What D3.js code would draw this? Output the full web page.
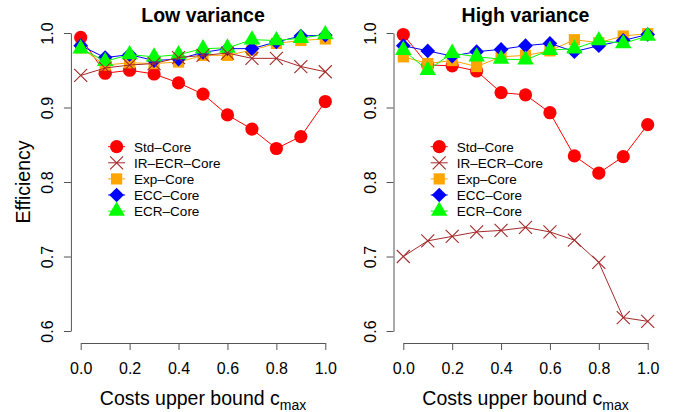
<!DOCTYPE html>
<html lang="en">
<head>
<meta charset="utf-8">
<script src="https://d3js.org/d3.v7.min.js"></script>
<style>
  body { margin: 0; background: #fff; }
  svg text { font-family: "Liberation Sans", Arial, Helvetica, sans-serif; fill: #000; }
  .axis path, .axis line { stroke: #555; stroke-width: 1; }
</style>
</head>
<body>
<div id="chart"></div>
<script>

// cost bound values on the x axis
const costs = [0, 0.1, 0.2, 0.3, 0.4, 0.5, 0.6, 0.7, 0.8, 0.9, 1.0];
const xTicks = [0, 0.2, 0.4, 0.6, 0.8, 1.0];
const yTicks = [0.6, 0.7, 0.8, 0.9, 1.0];

const seriesNames = ["Std\u2013Core", "IR\u2013ECR\u2013Core", "Exp\u2013Core", "ECC\u2013Core", "ECR\u2013Core"];
const panelTitles = ["Low variance", "High variance"];

// Low variance panel
const lowStd = [0.994, 0.946, 0.950, 0.945, 0.933, 0.918, 0.890, 0.871, 0.845, 0.861, 0.908];
const lowIR  = [0.943, 0.953, 0.957, 0.959, 0.967, 0.970, 0.973, 0.966, 0.966, 0.955, 0.948];
const lowExp = [0.980, 0.957, 0.960, 0.959, 0.961, 0.970, 0.970, 0.977, 0.986, 0.990, 0.992];
const lowECC = [0.983, 0.967, 0.971, 0.963, 0.965, 0.974, 0.979, 0.979, 0.988, 0.996, 0.997];
const lowECR = [0.979, 0.962, 0.971, 0.968, 0.971, 0.979, 0.980, 0.991, 0.990, 0.993, 0.998];

// High variance panel
const highStd = [0.998, 0.957, 0.956, 0.949, 0.920, 0.917, 0.893, 0.835, 0.812, 0.834, 0.877];
const highIR  = [0.700, 0.721, 0.727, 0.733, 0.735, 0.739, 0.733, 0.722, 0.692, 0.618, 0.613];
const highExp = [0.968, 0.959, 0.963, 0.955, 0.968, 0.970, 0.976, 0.991, 0.987, 0.996, 0.999];
const highECC = [0.983, 0.976, 0.969, 0.975, 0.978, 0.983, 0.986, 0.975, 0.983, 0.990, 0.998];
const highECR = [0.977, 0.950, 0.973, 0.968, 0.965, 0.964, 0.977, 0.979, 0.990, 0.986, 0.996];

const colors = ["#ff0000", "#a52a2a", "#ffa500", "#0000ff", "#00ff00"];
const shapes = ["circle", "times", "square", "diamond", "triangle"];

const W = 678, H = 412;
const svg = d3.select("#chart").append("svg")
  .attr("width", W).attr("height", H);

const y = d3.scaleLinear().domain([0.6, 1.0]).range([331, 33]);

// R style markers
function marker(sel, shape, color) {
  if (shape === "circle") {
    sel.append("circle").attr("r", 6.6).attr("fill", color);
  } else if (shape === "times") {
    sel.append("path").attr("d", "M-6.5,-6.5L6.5,6.5M-6.5,6.5L6.5,-6.5")
      .attr("stroke", color).attr("stroke-width", 1.1).attr("fill", "none");
  } else if (shape === "square") {
    sel.append("path").attr("d", d3.symbol().type(d3.symbolSquare).size(125)()).attr("fill", color);
  } else if (shape === "diamond") {
    sel.append("path").attr("d", d3.symbol().type(d3.symbolSquare).size(108)())
      .attr("transform", "rotate(45)").attr("fill", color);
  } else {
    sel.append("path").attr("d", d3.symbol().type(d3.symbolTriangle).size(118)()).attr("fill", color);
  }
}

function panel(xRange, title, series) {
  const x = d3.scaleLinear().domain([0, 1]).range(xRange);
  const cx = (xRange[0] + xRange[1]) / 2;
  const axisX = xRange[0] - 0.04 * (xRange[1] - xRange[0]);
  const g = svg.append("g");

  // x axis
  const gx = g.append("g").attr("class", "axis")
    .attr("transform", "translate(0,343)")
    .call(d3.axisBottom(x).tickValues(xTicks).tickFormat(d3.format(".1f"))
      .tickSize(7).tickSizeOuter(0).tickPadding(12.7));
  gx.selectAll("text").style("font-size", "16px");

  // y axis with rotated labels
  const gy = g.append("g").attr("class", "axis")
    .attr("transform", `translate(${axisX},0)`)
    .call(d3.axisLeft(y).tickValues(yTicks).tickFormat(d3.format(".1f"))
      .tickSize(7).tickSizeOuter(0));
  gy.selectAll("text")
    .attr("transform", "rotate(-90)")
    .attr("x", 0).attr("y", -18).attr("dy", 0)
    .attr("text-anchor", "middle")
    .style("font-size", "16px");

  // title
  g.append("text").attr("x", cx).attr("y", 22)
    .attr("text-anchor", "middle")
    .style("font-size", "19.5px").style("font-weight", "bold")
    .text(title);

  // x label
  const xl = g.append("text").attr("x", cx).attr("y", 404.5)
    .attr("text-anchor", "middle").style("font-size", "19.5px");
  xl.append("tspan").text("Costs upper bound c");
  xl.append("tspan").attr("dy", 5).style("font-size", "14px").text("max");

  // lines and points, drawn in this order
  const order = [0, 2, 3, 4, 1];
  order.forEach(function(i) {
    const vals = series[i];
    const pts = costs.map(function(c, j) { return [c, vals[j]]; });
    g.append("path")
      .datum(pts)
      .attr("d", d3.line().x(function(d) { return x(d[0]); }).y(function(d) { return y(d[1]); }))
      .attr("fill", "none").attr("stroke", colors[i]).attr("stroke-width", 1);
    g.selectAll(null).data(pts).enter().append("g")
      .attr("transform", function(d) { return `translate(${x(d[0])},${y(d[1])})`; })
      .each(function() { marker(d3.select(this), shapes[i], colors[i]); });
  });

  // legend
  const lx = axisX + 45.7;
  seriesNames.forEach(function(name, i) {
    const ly = 146.7 + i * 16.1;
    g.append("line").attr("x1", lx - 8.5).attr("x2", lx + 8.5)
      .attr("y1", ly).attr("y2", ly)
      .attr("stroke", colors[i]).attr("stroke-width", 1);
    const m = g.append("g").attr("transform", `translate(${lx},${ly})`);
    marker(m, shapes[i], colors[i]);
    g.append("text").attr("x", lx + 17.5).attr("y", ly).attr("dy", "0.36em")
      .style("font-size", "13.5px").text(name);
  });
}

panel([80.7, 325.3], panelTitles[0], [lowStd, lowIR, lowExp, lowECC, lowECR]);
panel([403.3, 647.7], panelTitles[1], [highStd, highIR, highExp, highECC, highECR]);

// shared y label
svg.append("text")
  .attr("transform", "translate(30,182) rotate(-90)")
  .attr("text-anchor", "middle")
  .style("font-size", "19.5px")
  .text("Efficiency");

</script>
</body>
</html>
